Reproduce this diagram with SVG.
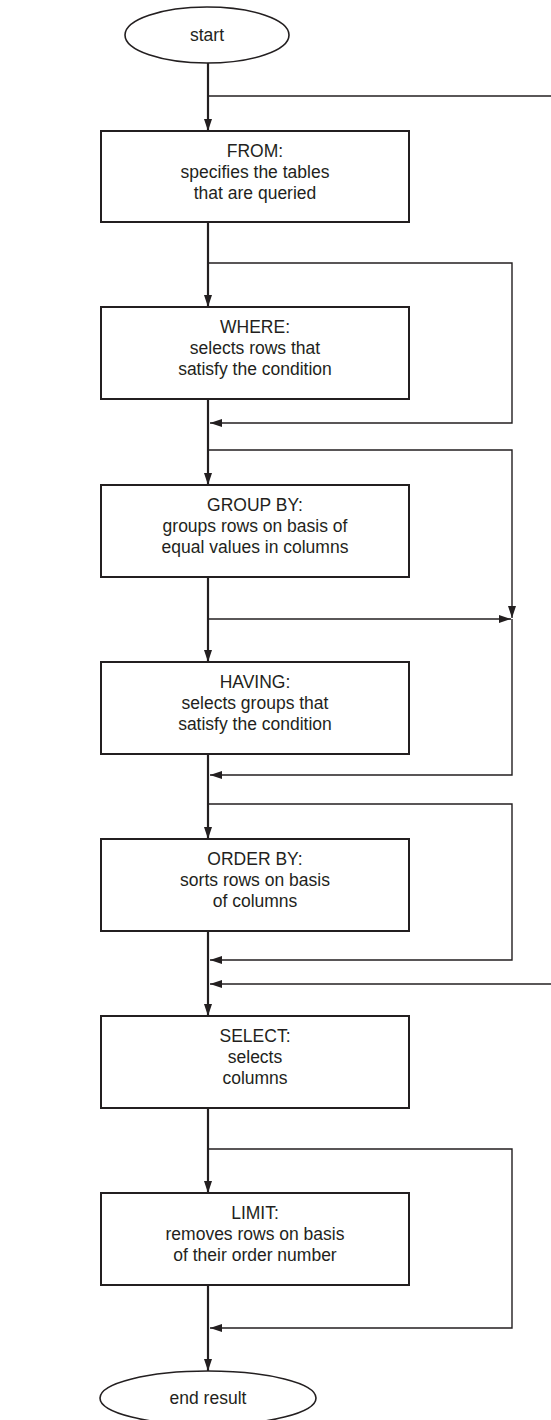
<svg xmlns="http://www.w3.org/2000/svg" width="551" height="1420" viewBox="0 0 551 1420">
  <style>
    .box { fill: #ffffff; stroke: #231f20; stroke-width: 2; }
    .term { fill: #ffffff; stroke: #231f20; stroke-width: 1.6; }
    .main { fill: none; stroke: #231f20; stroke-width: 2.2; }
    .side { fill: none; stroke: #231f20; stroke-width: 1.4; }
    text { font-family: "Liberation Sans", Arial, Helvetica, sans-serif; font-size: 17.5px; fill: #231f20; text-anchor: middle; }
  </style>
  <defs>
    <marker id="arrow" viewBox="0 0 12 8" refX="12" refY="4" markerWidth="12" markerHeight="8" markerUnits="userSpaceOnUse" orient="auto">
      <path d="M0,0 L12,4 L0,8 Z" fill="#231f20"/>
    </marker>
  </defs>

  <!-- connectors -->
  <g id="connectors">
    <!-- main flow down the left spine -->
    <line class="main" x1="208" y1="63" x2="208" y2="131" marker-end="url(#arrow)"/>
    <line class="main" x1="208" y1="222" x2="208" y2="307" marker-end="url(#arrow)"/>
    <line class="main" x1="208" y1="399" x2="208" y2="485" marker-end="url(#arrow)"/>
    <line class="main" x1="208" y1="577" x2="208" y2="662" marker-end="url(#arrow)"/>
    <line class="main" x1="208" y1="754" x2="208" y2="839" marker-end="url(#arrow)"/>
    <line class="main" x1="208" y1="931" x2="208" y2="1016" marker-end="url(#arrow)"/>
    <line class="main" x1="208" y1="1108" x2="208" y2="1193" marker-end="url(#arrow)"/>
    <line class="main" x1="208" y1="1285" x2="208" y2="1371" marker-end="url(#arrow)"/>

    <!-- skip paths -->
    <polyline class="side" points="208,96 551,96"/>
    <polyline class="side" points="208,263 512,263 512,423 210,423" marker-end="url(#arrow)"/>
    <polyline class="side" points="208,450 512,450 512,618" marker-end="url(#arrow)"/>
    <polyline class="side" points="208,619 511,619" marker-end="url(#arrow)"/>
    <polyline class="side" points="512,619 512,775 210,775" marker-end="url(#arrow)"/>
    <polyline class="side" points="208,804 512,804 512,960 210,960" marker-end="url(#arrow)"/>
    <polyline class="side" points="551,984 210,984" marker-end="url(#arrow)"/>
    <polyline class="side" points="208,1149 512,1149 512,1328 210,1328" marker-end="url(#arrow)"/>
  </g>

  <g id="start">
    <ellipse class="term" cx="207" cy="35" rx="82" ry="28"/>
    <text x="207" y="41">start</text>
  </g>

  <g id="from">
    <rect class="box" x="101" y="131" width="308" height="91"/>
    <text x="255" y="157">FROM:</text>
    <text x="255" y="178">specifies the tables</text>
    <text x="255" y="199">that are queried</text>
  </g>

  <g id="where">
    <rect class="box" x="101" y="307" width="308" height="92"/>
    <text x="255" y="333">WHERE:</text>
    <text x="255" y="354">selects rows that</text>
    <text x="255" y="375">satisfy the condition</text>
  </g>

  <g id="group-by">
    <rect class="box" x="101" y="485" width="308" height="92"/>
    <text x="255" y="511">GROUP BY:</text>
    <text x="255" y="532">groups rows on basis of</text>
    <text x="255" y="553">equal values in columns</text>
  </g>

  <g id="having">
    <rect class="box" x="101" y="662" width="308" height="92"/>
    <text x="255" y="688">HAVING:</text>
    <text x="255" y="709">selects groups that</text>
    <text x="255" y="730">satisfy the condition</text>
  </g>

  <g id="order-by">
    <rect class="box" x="101" y="839" width="308" height="92"/>
    <text x="255" y="865">ORDER BY:</text>
    <text x="255" y="886">sorts rows on basis</text>
    <text x="255" y="907">of columns</text>
  </g>

  <g id="select">
    <rect class="box" x="101" y="1016" width="308" height="92"/>
    <text x="255" y="1042">SELECT:</text>
    <text x="255" y="1063">selects</text>
    <text x="255" y="1084">columns</text>
  </g>

  <g id="limit">
    <rect class="box" x="101" y="1193" width="308" height="92"/>
    <text x="255" y="1219">LIMIT:</text>
    <text x="255" y="1240">removes rows on basis</text>
    <text x="255" y="1261">of their order number</text>
  </g>

  <g id="end">
    <ellipse class="term" cx="208" cy="1398" rx="108" ry="27"/>
    <text x="208" y="1404">end result</text>
  </g>
</svg>
